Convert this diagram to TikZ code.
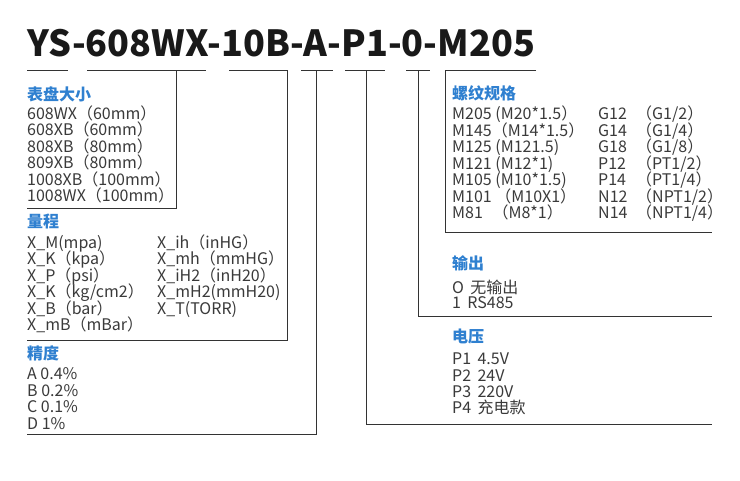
\documentclass[tikz,border=0pt]{standalone}
\usepackage{fontspec}
\setmainfont{Noto Sans CJK SC}
\definecolor{headblue}{HTML}{2F80D0}
\definecolor{txtgray}{HTML}{3A3A3A}
\definecolor{lncol}{HTML}{333333}
\begin{document}
\begin{tikzpicture}[x=1pt,y=-1pt,
  head/.style={anchor=base west,inner sep=0pt,text=headblue,font=\fontsize{16}{16}\selectfont\bfseries},
  item/.style={anchor=base west,inner sep=0pt,text=txtgray,font=\fontsize{16}{16}\selectfont},
  rule/.style={draw=lncol,line width=0.9pt}]
\useasboundingbox[fill=white] (0,0) rectangle (740,480);
% title
\node[anchor=base west,inner sep=0pt,text=black!90,font=\fontsize{36}{36}\selectfont\bfseries] (title) at (27,56) {YS-608WX-10B-A-P1-0-M205};
% coordinates
\coordinate (a1) at (27,70); \coordinate (a2) at (68,70);
\coordinate (b1) at (87,70); \coordinate (b2) at (206,70); \coordinate (bv) at (176,70); \coordinate (bc) at (176,208); \coordinate (be) at (27,208);
\coordinate (c1) at (229,70); \coordinate (c2) at (287,70); \coordinate (cc) at (287,340); \coordinate (ce) at (27,340);
\coordinate (d1) at (301,70); \coordinate (d2) at (333,70); \coordinate (dv) at (316,70); \coordinate (dc) at (316,434); \coordinate (de) at (27,434);
\coordinate (e1) at (345,70); \coordinate (e2) at (385,70); \coordinate (ev) at (366,70); \coordinate (ec) at (366,424); \coordinate (ee) at (712,424);
\coordinate (f1) at (406,70); \coordinate (f2) at (430,70); \coordinate (fv) at (418,70); \coordinate (fc) at (418,316); \coordinate (fe) at (712,316);
\coordinate (g2) at (536,70); \coordinate (g1) at (445,70); \coordinate (gc) at (445,232); \coordinate (ge) at (712,232);
\draw[rule] (a1) -- (a2);
\draw[rule] (b1) -- (b2); \draw[rule] (bv) -- (bc) -- (be);
\draw[rule] (c1) -- (c2) -- (cc) -- (ce);
\draw[rule] (d1) -- (d2); \draw[rule] (dv) -- (dc) -- (de);
\draw[rule] (e1) -- (e2); \draw[rule] (ev) -- (ec) -- (ee);
\draw[rule] (f1) -- (f2); \draw[rule] (fv) -- (fc) -- (fe);
\draw[rule] (g2) -- (g1) -- (gc) -- (ge);
% dial size
\node[head] (h1) at (27,100) {表盘大小};
\node[item] (s1) at (27,119) {608WX（60mm）};
\node[item] (s2) at (27,135.5) {608XB（60mm）};
\node[item] (s3) at (27,152) {808XB（80mm）};
\node[item] (s4) at (27,168.5) {809XB（80mm）};
\node[item] (s5) at (27,185) {1008XB（100mm）};
\node[item] (s6) at (27,201.5) {1008WX（100mm）};
% range
\node[head] (h2) at (27,227) {量程};
\node[item] (r1) at (27,248) {X\_M(mpa)};
\node[item] (r2) at (27,264.5) {X\_K（kpa）};
\node[item] (r3) at (27,281) {X\_P（psi）};
\node[item] (r4) at (27,297.5) {X\_K（kg/cm2）};
\node[item] (r5) at (27,314) {X\_B（bar）};
\node[item] (r6) at (27,330.5) {X\_mB（mBar）};
\node[item] (q1) at (157,248) {X\_ih（inHG）};
\node[item] (q2) at (157,264.5) {X\_mh（mmHG）};
\node[item] (q3) at (157,281) {X\_iH2（inH20）};
\node[item] (q4) at (157,297.5) {X\_mH2(mmH20)};
\node[item] (q5) at (157,314) {X\_T(TORR)};
% accuracy
\node[head] (h3) at (27,359) {精度};
\node[item] (p1) at (27,379) {A 0.4\%};
\node[item] (p2) at (27,396) {B 0.2\%};
\node[item] (p3) at (27,412) {C 0.1\%};
\node[item] (p4) at (27,429) {D 1\%};
% thread
\node[head] (h4) at (452,99) {螺纹规格};
\node[item] (t1) at (452,119) {M205 (M20*1.5）};
\node[item] (t2) at (452,136) {M145（M14*1.5）};
\node[item] (t3) at (452,152) {M125 (M121.5)};
\node[item] (t4) at (452,169) {M121 (M12*1)};
\node[item] (t5) at (452,185) {M105 (M10*1.5)};
\node[item] (t6) at (452,202) {M101 （M10X1）};
\node[item] (t7) at (452,218) {M81\hspace{0.6em}（M8*1）};
\node[item] (k1) at (598,119) {\makebox[38pt][l]{G12}（G1/2）};
\node[item] (k2) at (598,136) {\makebox[38pt][l]{G14}（G1/4）};
\node[item] (k3) at (598,152) {\makebox[38pt][l]{G18}（G1/8）};
\node[item] (k4) at (598,169) {\makebox[38pt][l]{P12}（PT1/2）};
\node[item] (k5) at (598,185) {\makebox[38pt][l]{P14}（PT1/4）};
\node[item] (k6) at (598,202) {\makebox[38pt][l]{N12}（NPT1/2）};
\node[item] (k7) at (598,218) {\makebox[38pt][l]{N14}（NPT1/4）};
% output
\node[head] (h5) at (452,269) {输出};
\node[item] (o1) at (452,293) {O\hspace{0.4em}无输出};
\node[item] (o2) at (452,308.5) {1\hspace{0.4em}RS485};
% voltage
\node[head] (h6) at (452,342) {电压};
\node[item] (v1) at (452,364) {P1\hspace{0.4em}4.5V};
\node[item] (v2) at (452,381) {P2\hspace{0.4em}24V};
\node[item] (v3) at (452,397) {P3\hspace{0.4em}220V};
\node[item] (v4) at (452,413) {P4\hspace{0.4em}充电款};
\end{tikzpicture}
\end{document}
